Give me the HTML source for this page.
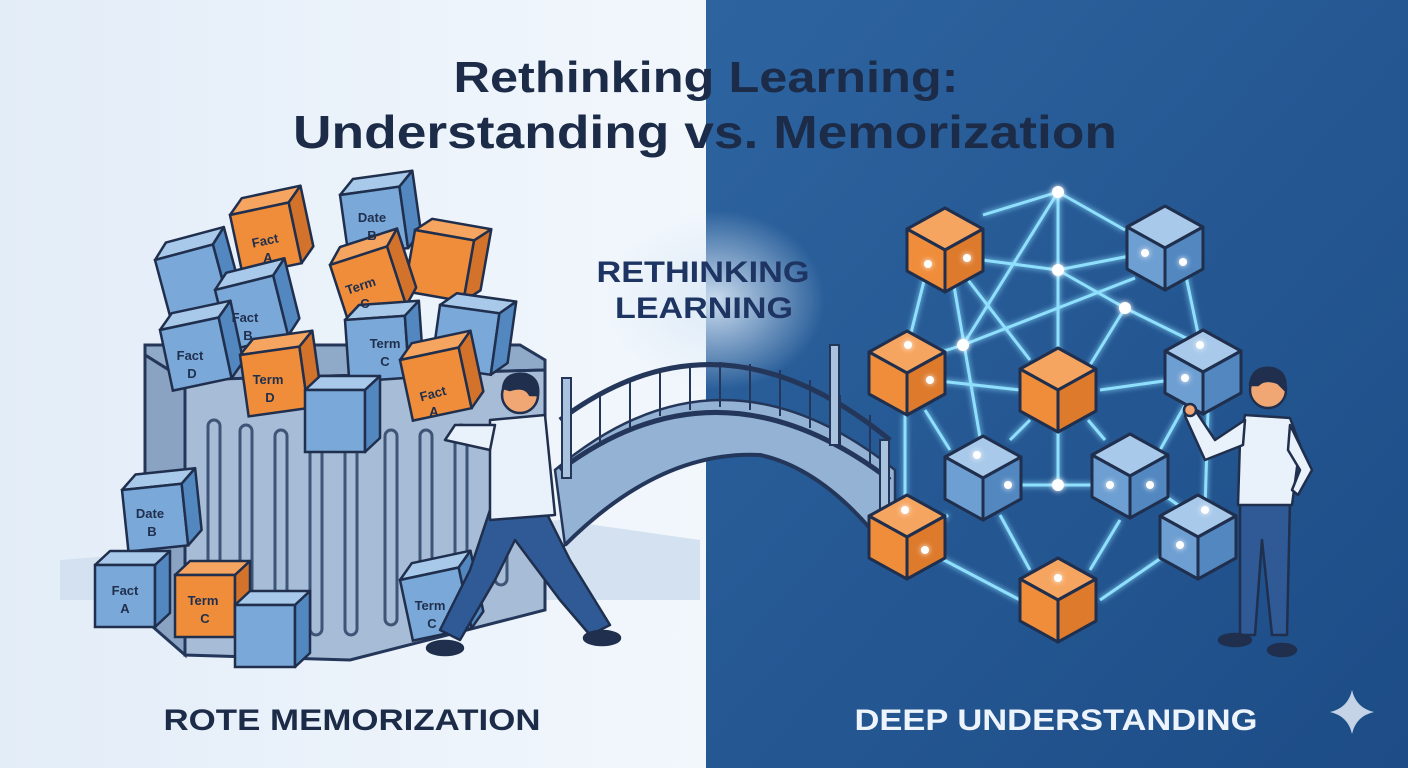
<!DOCTYPE html>
<html><head><meta charset="utf-8"><style>html,body{margin:0;padding:0;width:1408px;height:768px;overflow:hidden}svg{display:block}</style></head>
<body>
<svg width="1408" height="768" viewBox="0 0 1408 768" xmlns="http://www.w3.org/2000/svg" font-family="Liberation Sans, sans-serif">
<defs>
<linearGradient id="lbg" x1="0" y1="0" x2="1" y2="0"><stop offset="0" stop-color="#e3edf8"/><stop offset="1" stop-color="#f2f7fc"/></linearGradient>
<linearGradient id="rbg" x1="0" y1="0" x2="1" y2="1"><stop offset="0" stop-color="#2d64a0"/><stop offset="1" stop-color="#1d4c86"/></linearGradient>
<radialGradient id="glow" cx="0.5" cy="0.5" r="0.5"><stop offset="0" stop-color="#dbe9f7" stop-opacity="0.9"/><stop offset="1" stop-color="#dbe9f7" stop-opacity="0"/></radialGradient>
<filter id="gl" x="-50%" y="-50%" width="200%" height="200%"><feGaussianBlur stdDeviation="3" result="b"/><feMerge><feMergeNode in="b"/><feMergeNode in="SourceGraphic"/></feMerge></filter>
<g id="cb">
<polygon points="0,-42 38,-21 0,0 -38,-21" fill="#a9c9ea" stroke="#1f2f4d" stroke-width="3" stroke-linejoin="round"/>
<polygon points="-38,-21 0,0 0,42 -38,21" fill="#6e9fd2" stroke="#1f2f4d" stroke-width="3" stroke-linejoin="round"/>
<polygon points="0,0 38,-21 38,21 0,42" fill="#5287c0" stroke="#1f2f4d" stroke-width="3" stroke-linejoin="round"/>
</g>
<g id="co">
<polygon points="0,-42 38,-21 0,0 -38,-21" fill="#f6a560" stroke="#1f2f4d" stroke-width="3" stroke-linejoin="round"/>
<polygon points="-38,-21 0,0 0,42 -38,21" fill="#ef8d3a" stroke="#1f2f4d" stroke-width="3" stroke-linejoin="round"/>
<polygon points="0,0 38,-21 38,21 0,42" fill="#dd7a2c" stroke="#1f2f4d" stroke-width="3" stroke-linejoin="round"/>
</g>
<g id="lb">
<polygon points="0,0 15,-14 75,-14 60,0" fill="#a9c9ea" stroke="#1f2f4d" stroke-width="2.5" stroke-linejoin="round"/>
<rect x="0" y="0" width="60" height="62" fill="#7aa8d8" stroke="#1f2f4d" stroke-width="2.5"/>
<polygon points="60,0 75,-14 75,48 60,62" fill="#5287c0" stroke="#1f2f4d" stroke-width="2.5" stroke-linejoin="round"/>
</g>
<g id="lo">
<polygon points="0,0 15,-14 75,-14 60,0" fill="#f6a560" stroke="#1f2f4d" stroke-width="2.5" stroke-linejoin="round"/>
<rect x="0" y="0" width="60" height="62" fill="#ef8d3a" stroke="#1f2f4d" stroke-width="2.5"/>
<polygon points="60,0 75,-14 75,48 60,62" fill="#d3722a" stroke="#1f2f4d" stroke-width="2.5" stroke-linejoin="round"/>
</g>
</defs>
<rect x="0" y="0" width="706" height="768" fill="url(#lbg)"/>
<rect x="706" y="0" width="702" height="768" fill="url(#rbg)"/>
<ellipse cx="715" cy="300" rx="110" ry="90" fill="url(#glow)"/>
<!-- ground shadow left -->
<polygon points="60,560 560,520 700,540 700,600 520,600 60,600" fill="#d3e1f0"/>

<!-- title -->
<g fill="#1c2b48" font-weight="bold" text-anchor="middle">
<text x="706" y="92" font-size="44" textLength="505" lengthAdjust="spacingAndGlyphs">Rethinking Learning:</text>
<text x="705" y="148" font-size="46" textLength="824" lengthAdjust="spacingAndGlyphs">Understanding vs. Memorization</text>
<text x="703" y="282" font-size="30" fill="#1e3563" textLength="213" lengthAdjust="spacingAndGlyphs">RETHINKING</text>
<text x="704" y="318" font-size="30" fill="#1e3563" textLength="178" lengthAdjust="spacingAndGlyphs">LEARNING</text>
<text x="352" y="730" font-size="30" textLength="377" lengthAdjust="spacingAndGlyphs">ROTE MEMORIZATION</text>
<text x="1056" y="730" font-size="30" fill="#eef4fb" textLength="403" lengthAdjust="spacingAndGlyphs">DEEP UNDERSTANDING</text>
</g>

<!-- bridge -->
<g stroke="#24375a" stroke-width="2.5" fill="#aac3de">
<path d="M555,470 Q720,330 895,470 L895,560 Q830,470 760,455 Q660,450 565,545 Z" fill="#93b2d4"/>
<path d="M560,420 Q720,300 890,440" fill="none" stroke-width="5"/>
<path d="M560,470 Q720,350 890,480" fill="none" stroke-width="5"/>
<path d="M565,545 Q660,450 760,455 Q830,470 895,560" fill="none" stroke-width="4"/>
</g>
<g stroke="#24375a" stroke-width="2">
<line x1="600" y1="395" x2="600" y2="445"/><line x1="630" y1="380" x2="630" y2="428"/><line x1="660" y1="370" x2="660" y2="416"/><line x1="690" y1="364" x2="690" y2="410"/><line x1="720" y1="362" x2="720" y2="407"/><line x1="750" y1="364" x2="750" y2="410"/><line x1="780" y1="370" x2="780" y2="416"/><line x1="810" y1="380" x2="810" y2="428"/><line x1="840" y1="395" x2="840" y2="445"/><line x1="870" y1="415" x2="870" y2="465"/>
</g>
<rect x="562" y="378" width="9" height="100" fill="#a9c2de" stroke="#24375a" stroke-width="2"/>
<rect x="830" y="345" width="9" height="100" fill="#a9c2de" stroke="#24375a" stroke-width="2"/>
<rect x="880" y="440" width="9" height="100" fill="#a9c2de" stroke="#24375a" stroke-width="2"/>

<!-- container -->
<polygon points="145,355 185,380 545,370 545,360 520,345 145,345" fill="#8fa9c8" stroke="#24375a" stroke-width="3"/>
<polygon points="145,355 185,380 185,655 145,620" fill="#8aa3c2" stroke="#24375a" stroke-width="3"/>
<polygon points="185,380 545,370 545,610 350,660 185,655" fill="#a7bcd6" stroke="#24375a" stroke-width="3"/>
<g fill="none" stroke="#3e5578" stroke-width="3">
<rect x="208" y="420" width="12" height="200" rx="6"/><rect x="240" y="425" width="12" height="205" rx="6"/><rect x="275" y="430" width="12" height="205" rx="6"/><rect x="310" y="430" width="12" height="205" rx="6"/><rect x="345" y="430" width="12" height="205" rx="6"/><rect x="385" y="430" width="12" height="195" rx="6"/><rect x="420" y="430" width="12" height="185" rx="6"/><rect x="455" y="425" width="12" height="175" rx="6"/><rect x="495" y="420" width="12" height="165" rx="6"/>
</g>

<!-- left cube pile -->
<use href="#lb" transform="translate(340,195) rotate(-8)"/>
<use href="#lo" transform="translate(230,215) rotate(-12)"/>
<use href="#lo" transform="translate(415,230) rotate(10)"/>
<use href="#lb" transform="translate(155,260) rotate(-15)"/>
<use href="#lb" transform="translate(440,305) rotate(8)"/>
<use href="#lo" transform="translate(330,265) rotate(-18)"/>
<use href="#lb" transform="translate(215,290) rotate(-14)"/>
<use href="#lb" transform="translate(160,330) rotate(-12)"/>
<use href="#lb" transform="translate(345,320) rotate(-4)"/>
<use href="#lo" transform="translate(240,355) rotate(-8)"/>
<use href="#lb" transform="translate(305,390)"/>
<use href="#lo" transform="translate(400,360) rotate(-12)"/>
<use href="#lb" transform="translate(122,490) rotate(-6)"/>
<use href="#lb" transform="translate(95,565)"/>
<use href="#lo" transform="translate(175,575)"/>
<use href="#lb" transform="translate(235,605)"/>
<use href="#lb" transform="translate(400,580) rotate(-12)"/>
<g font-size="13" fill="#1f2f4d" text-anchor="middle" font-weight="bold">
<text x="372" y="222">Date</text><text x="372" y="240">B</text>
<text x="266" y="245" transform="rotate(-12 266 245)">Fact</text><text x="268" y="262">A</text>
<text x="362" y="290" transform="rotate(-18 362 290)">Term</text><text x="365" y="308">C</text>
<text x="245" y="322">Fact</text><text x="248" y="340">B</text>
<text x="190" y="360">Fact</text><text x="192" y="378">D</text>
<text x="385" y="348">Term</text><text x="385" y="366">C</text>
<text x="268" y="384">Term</text><text x="270" y="402">D</text>
<text x="434" y="398" transform="rotate(-15 434 398)">Fact</text><text x="434" y="416">A</text>
<text x="150" y="518">Date</text><text x="152" y="536">B</text>
<text x="125" y="595">Fact</text><text x="125" y="613">A</text>
<text x="203" y="605">Term</text><text x="205" y="623">C</text>
<text x="430" y="610">Term</text><text x="432" y="628">C</text>
</g>

<!-- left person -->
<g stroke="#1f2f4d" stroke-width="2.5" stroke-linejoin="round">
<path d="M490,510 L470,570 L440,630 L460,640 L495,580 L515,540 L560,600 L590,635 L610,625 L570,560 L545,510 Z" fill="#2f5a96"/>
<path d="M490,420 L545,415 L555,515 L490,520 Z" fill="#e9f1fa"/>
<path d="M495,425 L455,425 L445,440 L490,450 Z" fill="#e9f1fa"/>
<circle cx="520" cy="395" r="18" fill="#f0a774"/>
<path d="M503,388 Q505,372 525,374 Q540,378 538,395 L530,395 Q525,385 510,390 Z" fill="#1f2f4d"/>
<ellipse cx="445" cy="648" rx="18" ry="7" fill="#1f2f4d"/><ellipse cx="602" cy="638" rx="18" ry="7" fill="#1f2f4d"/>
</g>

<!-- network lines -->
<g stroke="#8fe0ff" stroke-width="3" filter="url(#gl)" fill="none">
<polyline points="1058,192 983,215"/><line x1="1058" y1="192" x2="1125" y2="230"/>
<line x1="1058" y1="192" x2="1058" y2="485"/><line x1="1058" y1="192" x2="963" y2="345"/>
<line x1="967" y1="258" x2="1058" y2="270"/><line x1="1058" y1="270" x2="1145" y2="253"/>
<line x1="1058" y1="270" x2="1125" y2="308"/><line x1="1125" y1="308" x2="1200" y2="345"/>
<line x1="963" y1="345" x2="1135" y2="278"/><line x1="963" y1="345" x2="900" y2="365"/>
<line x1="928" y1="265" x2="908" y2="345"/><line x1="953" y1="280" x2="983" y2="455"/>
<line x1="968" y1="280" x2="1030" y2="360"/><line x1="1125" y1="308" x2="1090" y2="365"/>
<line x1="930" y1="380" x2="1020" y2="390"/><line x1="1100" y1="390" x2="1185" y2="378"/>
<line x1="1183" y1="262" x2="1200" y2="343"/><line x1="905" y1="415" x2="905" y2="510"/>
<line x1="925" y1="410" x2="950" y2="450"/><line x1="1008" y1="485" x2="1110" y2="485"/>
<line x1="1150" y1="485" x2="1185" y2="510"/><line x1="1208" y1="410" x2="1205" y2="510"/>
<line x1="1185" y1="405" x2="1160" y2="450"/><line x1="925" y1="550" x2="1020" y2="600"/>
<line x1="1100" y1="600" x2="1180" y2="545"/><line x1="1000" y1="515" x2="1030" y2="570"/>
<line x1="1120" y1="520" x2="1090" y2="570"/><line x1="1030" y1="420" x2="1010" y2="440"/>
<line x1="1088" y1="420" x2="1105" y2="440"/><line x1="948" y1="515" x2="928" y2="530"/>
</g>
<use href="#co" transform="translate(945,250)"/>
<use href="#cb" transform="translate(1165,248)"/>
<use href="#co" transform="translate(907,373)"/>
<use href="#co" transform="translate(1058,390)"/>
<use href="#cb" transform="translate(1203,372)"/>
<use href="#cb" transform="translate(983,478)"/>
<use href="#cb" transform="translate(1130,476)"/>
<use href="#co" transform="translate(907,537)"/>
<use href="#cb" transform="translate(1198,537)"/>
<use href="#co" transform="translate(1058,600)"/>
<g fill="#ffffff" filter="url(#gl)">
<circle cx="1058" cy="192" r="6"/><circle cx="1058" cy="270" r="6"/><circle cx="1125" cy="308" r="6"/><circle cx="963" cy="345" r="6"/><circle cx="1058" cy="485" r="6"/>
<circle cx="967" cy="258" r="4"/><circle cx="928" cy="264" r="4"/><circle cx="1145" cy="253" r="4"/><circle cx="1183" cy="262" r="4"/><circle cx="908" cy="345" r="4"/><circle cx="930" cy="380" r="4"/><circle cx="1185" cy="378" r="4"/><circle cx="1200" cy="345" r="4"/><circle cx="1008" cy="485" r="4"/><circle cx="1110" cy="485" r="4"/><circle cx="1150" cy="485" r="4"/><circle cx="905" cy="510" r="4"/><circle cx="925" cy="550" r="4"/><circle cx="1180" cy="545" r="4"/><circle cx="1205" cy="510" r="4"/><circle cx="1058" cy="578" r="4"/><circle cx="977" cy="455" r="4"/>
</g>

<!-- right person -->
<g stroke="#1f2f4d" stroke-width="2.5" stroke-linejoin="round">
<path d="M1240,500 L1240,635 L1255,635 L1262,540 L1272,635 L1287,635 L1290,500 Z" fill="#2f5a96"/>
<path d="M1245,415 L1290,418 L1300,445 L1292,505 L1238,505 L1240,440 Z" fill="#e9f1fa"/>
<path d="M1245,420 L1215,440 L1195,410 L1185,416 L1205,460 L1243,445 Z" fill="#e9f1fa"/>
<path d="M1290,425 L1312,470 L1298,495 L1292,490 L1300,470 L1288,450 Z" fill="#e9f1fa"/>
<circle cx="1268" cy="390" r="18" fill="#f0a774"/>
<path d="M1250,385 Q1252,366 1272,368 Q1288,372 1285,390 L1278,383 Q1265,378 1258,385 Z" fill="#1f2f4d"/>
<circle cx="1190" cy="410" r="6" fill="#f0a774"/>
<ellipse cx="1235" cy="640" rx="16" ry="6" fill="#1f2f4d"/><ellipse cx="1282" cy="650" rx="14" ry="6" fill="#1f2f4d"/>
</g>

<!-- sparkle -->
<path d="M1352,690 Q1356,708 1374,712 Q1356,716 1352,734 Q1348,716 1330,712 Q1348,708 1352,690 Z" fill="#c4d3e6"/>
</svg>
</body></html>
